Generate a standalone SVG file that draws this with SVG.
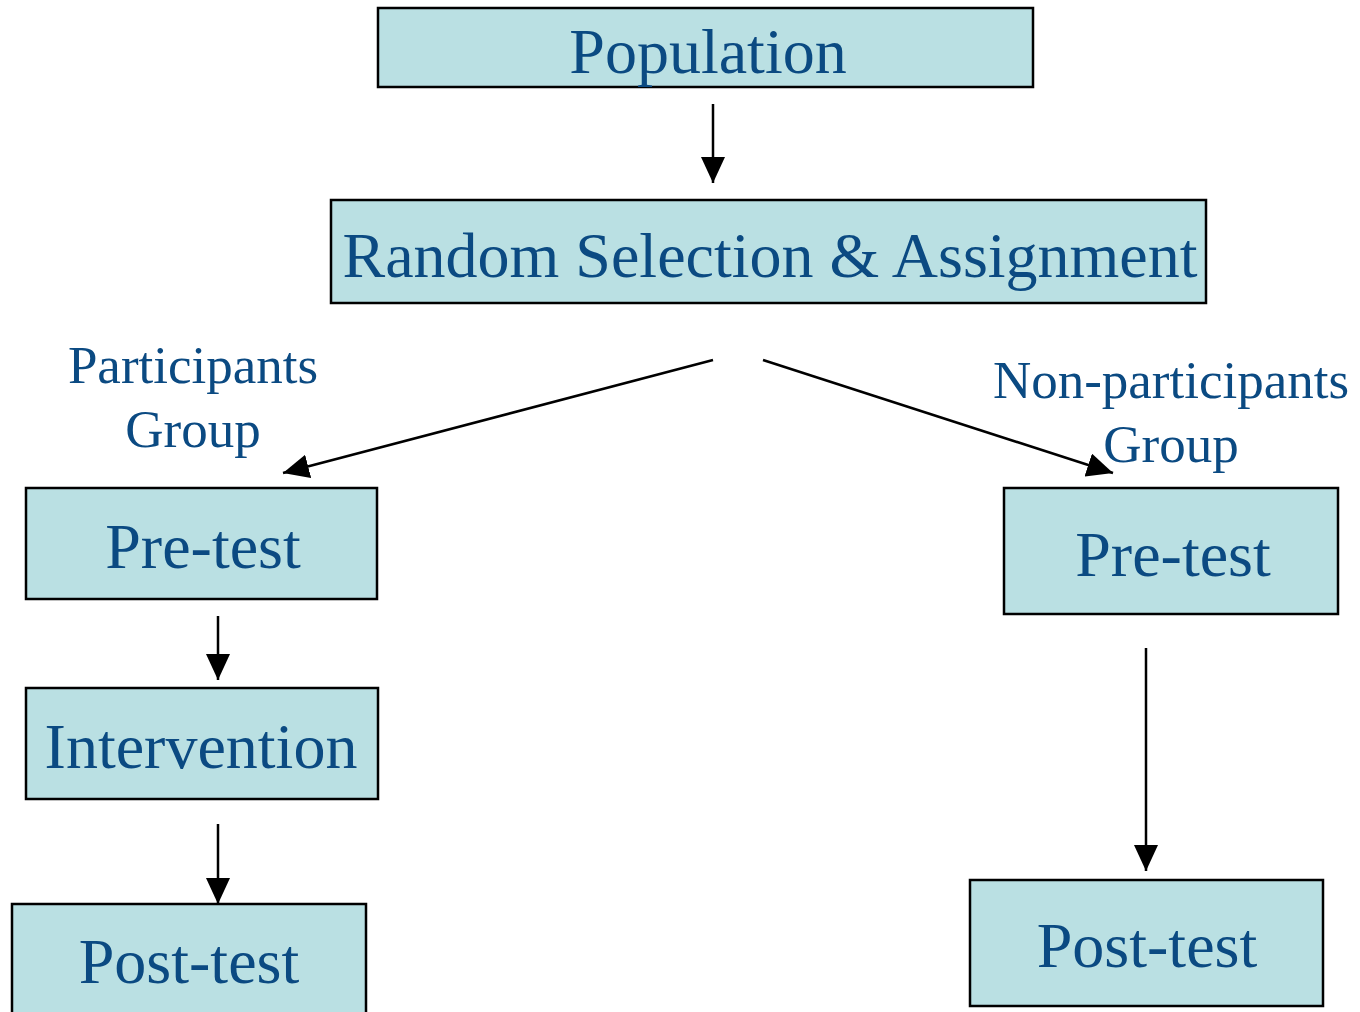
<svg xmlns="http://www.w3.org/2000/svg" width="1360" height="1012" viewBox="0 0 1360 1012">
<style>
.box{fill:#BAE0E3;stroke:#000;stroke-width:2.5}
.t{font-family:"Liberation Serif","Times New Roman",serif;fill:#0B4A82;text-anchor:middle}
.big{font-size:64px}
.lbl{font-size:53px}
.c{stroke:#000;stroke-width:2.5;fill:none;marker-end:url(#ah)}
</style>
<defs>
<marker id="ah" markerUnits="userSpaceOnUse" markerWidth="26" markerHeight="24" refX="26" refY="12" orient="auto" viewBox="0 0 26 24">
<path d="M0,0 L26,12 L0,24 z" fill="#000"/>
</marker>
</defs>
<rect width="1360" height="1012" fill="#fff"/>
<g id="connectors">
<line class="c" x1="713" y1="104" x2="713" y2="183"/>
<line class="c" x1="713" y1="360" x2="283" y2="473"/>
<line class="c" x1="763" y1="360" x2="1113" y2="473"/>
<line class="c" x1="218" y1="616" x2="218" y2="680"/>
<line class="c" x1="218" y1="824" x2="218" y2="904"/>
<line class="c" x1="1146" y1="648" x2="1146" y2="871"/>
</g>
<g id="population">
<rect class="box" x="378" y="8" width="655" height="79"/>
<text class="t big" x="708" y="73">Population</text>
</g>
<g id="random">
<rect class="box" x="331" y="200" width="875" height="103"/>
<text class="t big" x="770" y="277">Random Selection &amp; Assignment</text>
</g>
<g id="participants-label">
<text class="t lbl" x="193" y="383">Participants</text>
<text class="t lbl" x="193" y="447">Group</text>
</g>
<g id="nonparticipants-label">
<text class="t lbl" x="1171" y="398">Non-participants</text>
<text class="t lbl" x="1171" y="462">Group</text>
</g>
<g id="pretest-left">
<rect class="box" x="26" y="488" width="351" height="111"/>
<text class="t big" x="203" y="568">Pre-test</text>
</g>
<g id="intervention">
<rect class="box" x="26" y="688" width="352" height="111"/>
<text class="t big" x="201" y="768">Intervention</text>
</g>
<g id="posttest-left">
<rect class="box" x="12" y="904" width="354" height="120"/>
<text class="t big" x="189" y="983">Post-test</text>
</g>
<g id="pretest-right">
<rect class="box" x="1004" y="488" width="334" height="126"/>
<text class="t big" x="1173" y="576">Pre-test</text>
</g>
<g id="posttest-right">
<rect class="box" x="970" y="880" width="353" height="126"/>
<text class="t big" x="1147" y="967">Post-test</text>
</g>
</svg>
